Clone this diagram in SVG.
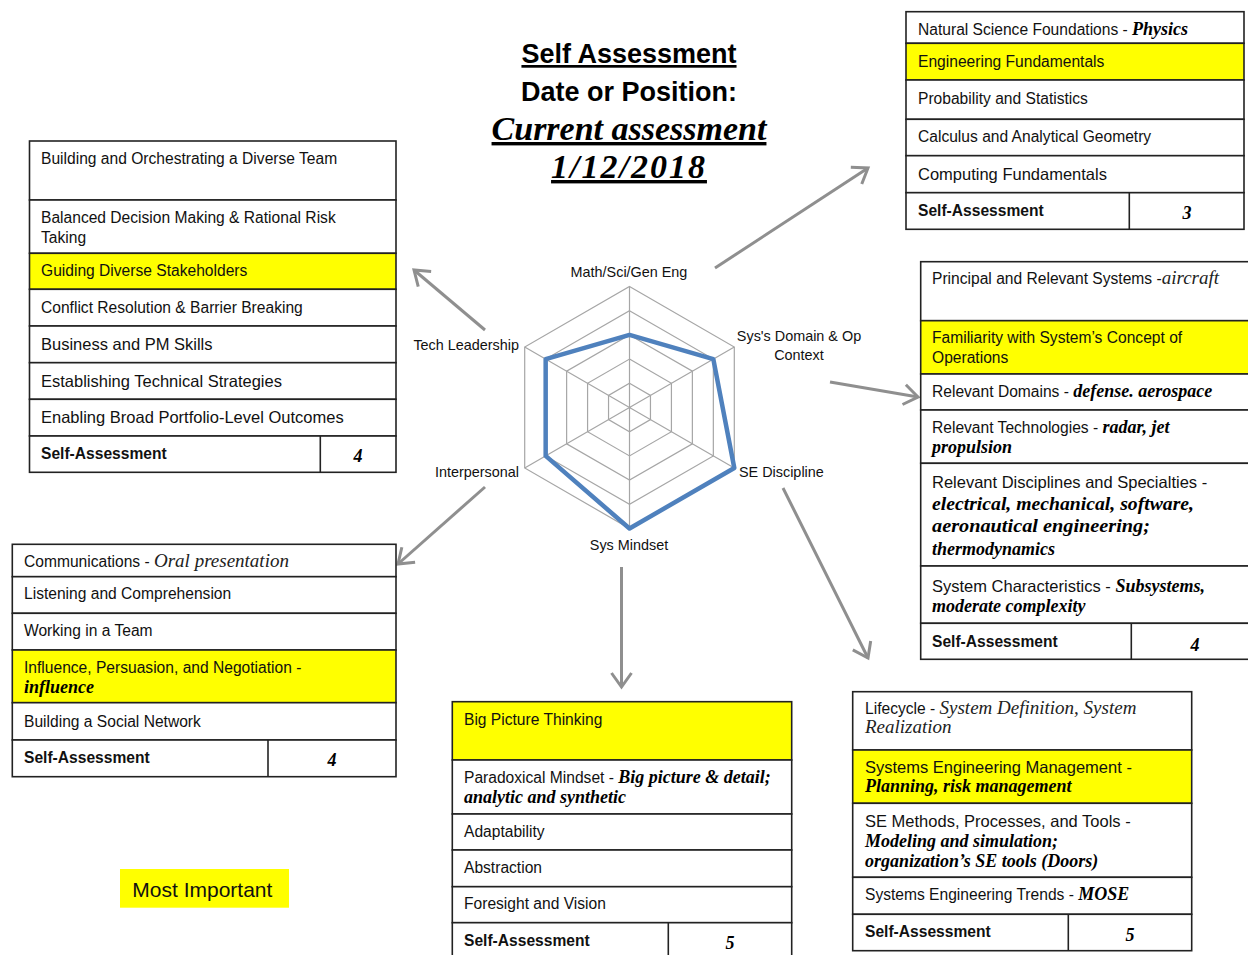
<svg xmlns="http://www.w3.org/2000/svg" width="1248" height="955" viewBox="0 0 1248 955">
<style>
.t{font-family:"Liberation Sans",Arial,sans-serif;font-size:15.6px;fill:#111}
.tl{font-size:16.5px}
.b{font-weight:bold}
.h{font-family:"Liberation Serif","Times New Roman",serif;font-style:italic;font-weight:bold;fill:#000;font-size:18px}
.hl{font-family:"Liberation Serif","Times New Roman",serif;font-style:italic;font-weight:normal;fill:#222;font-size:19px}
.n{font-family:"Liberation Serif","Times New Roman",serif;font-style:italic;font-weight:bold;fill:#000;font-size:18px;text-anchor:middle}
.c{fill:#fff;stroke:#222;stroke-width:1.6}
.y{fill:#ffff00;stroke:#222;stroke-width:1.6}
.dv{stroke:#222;stroke-width:1.6}
.lab{font-family:"Liberation Sans",Arial,sans-serif;font-size:14.4px;fill:#111}
.grid{fill:none;stroke:#a6a6a6;stroke-width:1.2}
.conn{stroke:#8f8f8f;stroke-width:3;fill:none;marker-end:url(#ah)}
.ttl{font-family:"Liberation Sans",Arial,sans-serif;font-weight:bold;font-size:27px;fill:#000;text-anchor:middle}
.hs{font-family:"Liberation Serif","Times New Roman",serif;font-style:italic;font-weight:bold;font-size:34px;fill:#000;text-anchor:middle;text-decoration:underline}
</style>
<defs>
<marker id="ah" viewBox="0 0 20 24" refX="17" refY="12" markerWidth="20" markerHeight="24" markerUnits="userSpaceOnUse" orient="auto">
<path d="M3,2 L17,12 L3,22" fill="none" stroke="#8f8f8f" stroke-width="3"/>
</marker>
</defs>
<rect width="1248" height="955" fill="#fff"/>

<g id="title">
<text class="ttl" x="629" y="63" text-decoration="underline">Self Assessment</text>
<text class="ttl" x="629" y="101">Date or Position:</text>
<text class="hs" x="629" y="140">Current assessment</text>
<text class="hs" x="629" y="178" style="letter-spacing:2px">1/12/2018</text>
</g>

<g id="radar">
<polygon class="grid" points="629.5,383.3 650.46,395.4 650.46,419.6 629.5,431.7 608.54,419.6 608.54,395.4"/>
<polygon class="grid" points="629.5,359.1 671.42,383.3 671.42,431.7 629.5,455.9 587.58,431.7 587.58,383.3"/>
<polygon class="grid" points="629.5,334.9 692.37,371.2 692.37,443.8 629.5,480.1 566.63,443.8 566.63,371.2"/>
<polygon class="grid" points="629.5,310.7 713.33,359.1 713.33,455.9 629.5,504.3 545.67,455.9 545.67,359.1"/>
<polygon class="grid" points="629.5,286.5 734.3,347 734.3,468 629.5,528.5 524.7,468 524.7,347"/>
<path class="grid" d="M629.5,407.5 L629.5,286.5 M629.5,407.5 L734.3,347 M629.5,407.5 L734.3,468 M629.5,407.5 L629.5,528.5 M629.5,407.5 L524.7,468 M629.5,407.5 L524.7,347"/>
<polygon points="629.5,334.9 713.33,359.1 734.3,468 629.5,528.5 545.67,455.9 545.67,359.1" fill="none" stroke="#4f81bd" stroke-width="4.5" stroke-linejoin="round"/>
<text class="lab" x="629" y="277" text-anchor="middle">Math/Sci/Gen Eng</text>
<text class="lab" x="799" y="341" text-anchor="middle">Sys's Domain &amp; Op</text>
<text class="lab" x="799" y="360" text-anchor="middle">Context</text>
<text class="lab" x="739" y="477">SE Discipline</text>
<text class="lab" x="629" y="550" text-anchor="middle">Sys Mindset</text>
<text class="lab" x="519" y="477" text-anchor="end">Interpersonal</text>
<text class="lab" x="519" y="350" text-anchor="end">Tech Leadership</text>
</g>

<g id="connectors">
<line class="conn" x1="715" y1="268" x2="868" y2="168"/>
<line class="conn" x1="830" y1="382" x2="918" y2="397"/>
<line class="conn" x1="783" y1="488" x2="868" y2="658"/>
<line class="conn" x1="621.5" y1="567" x2="621.5" y2="687"/>
<line class="conn" x1="485" y1="487" x2="398" y2="564"/>
<line class="conn" x1="485" y1="330" x2="414" y2="270"/>
</g>

<g id="tech-leadership">
<rect class="c" x="29.5" y="141" width="366.5" height="59"/>
<rect class="c" x="29.5" y="200" width="366.5" height="53.3"/>
<rect class="y" x="29.5" y="253.3" width="366.5" height="36"/>
<rect class="c" x="29.5" y="289.3" width="366.5" height="36.7"/>
<rect class="c" x="29.5" y="326" width="366.5" height="36.7"/>
<rect class="c" x="29.5" y="362.7" width="366.5" height="36.6"/>
<rect class="c" x="29.5" y="399.3" width="366.5" height="36.7"/>
<rect class="c" x="29.5" y="436" width="366.5" height="36.3"/>
<line class="dv" x1="320.3" y1="436" x2="320.3" y2="472.3"/>
<text class="t" x="41" y="163.5">Building and Orchestrating a Diverse Team</text>
<text class="t" x="41" y="222.7">Balanced Decision Making &amp; Rational Risk</text>
<text class="t" x="41" y="243.3">Taking</text>
<text class="t" x="41" y="275.7">Guiding Diverse Stakeholders</text>
<text class="t" x="41" y="312.7">Conflict Resolution &amp; Barrier Breaking</text>
<text class="t tl" x="41" y="350">Business and PM Skills</text>
<text class="t tl" x="41" y="387.3">Establishing Technical Strategies</text>
<text class="t tl" x="41" y="423.3">Enabling Broad Portfolio-Level Outcomes</text>
<text class="t b" x="41" y="458.5">Self-Assessment</text>
<text class="n" x="358" y="462">4</text>
</g>

<g id="math-sci">
<rect class="c" x="906" y="11.7" width="338" height="31.6"/>
<rect class="y" x="906" y="43.3" width="338" height="36.7"/>
<rect class="c" x="906" y="80" width="338" height="39.3"/>
<rect class="c" x="906" y="119.3" width="338" height="36.4"/>
<rect class="c" x="906" y="155.7" width="338" height="37"/>
<rect class="c" x="906" y="192.7" width="338" height="36.6"/>
<line class="dv" x1="1129.3" y1="192.7" x2="1129.3" y2="229.3"/>
<text class="t" x="918" y="35">Natural Science Foundations - <tspan class="h">Physics</tspan></text>
<text class="t" x="918" y="66.7">Engineering Fundamentals</text>
<text class="t" x="918" y="104">Probability and Statistics</text>
<text class="t" x="918" y="141.7">Calculus and Analytical Geometry</text>
<text class="t tl" x="918" y="180">Computing Fundamentals</text>
<text class="t b" x="918" y="215.5">Self-Assessment</text>
<text class="n" x="1187" y="219">3</text>
</g>

<g id="sys-domain">
<rect class="c" x="920.7" y="261.7" width="330" height="59"/>
<rect class="y" x="920.7" y="320.7" width="330" height="53.3"/>
<rect class="c" x="920.7" y="374" width="330" height="36"/>
<rect class="c" x="920.7" y="410" width="330" height="53.3"/>
<rect class="c" x="920.7" y="463.3" width="330" height="102.7"/>
<rect class="c" x="920.7" y="566" width="330" height="57.3"/>
<rect class="c" x="920.7" y="623.3" width="330" height="36"/>
<line class="dv" x1="1131.3" y1="623.3" x2="1131.3" y2="659.3"/>
<text class="t" x="932" y="284.3">Principal and Relevant Systems -<tspan class="hl">aircraft</tspan></text>
<text class="t" x="932" y="343.3">Familiarity with System’s Concept of</text>
<text class="t" x="932" y="363.3">Operations</text>
<text class="t" x="932" y="396.7">Relevant Domains - <tspan class="h">defense. aerospace</tspan></text>
<text class="t" x="932" y="433.3">Relevant Technologies - <tspan class="h">radar, jet</tspan></text>
<text class="h" x="932" y="453.3">propulsion</text>
<text class="t tl" x="932" y="488.3">Relevant Disciplines and Specialties -</text>
<text class="h" x="932" y="510" textLength="262" lengthAdjust="spacingAndGlyphs">electrical, mechanical, software,</text>
<text class="h" x="932" y="531.7" textLength="218" lengthAdjust="spacingAndGlyphs">aeronautical engineering;</text>
<text class="h" x="932" y="555">thermodynamics</text>
<text class="t tl" x="932" y="591.7">System Characteristics - <tspan class="h">Subsystems,</tspan></text>
<text class="h" x="932" y="611.7">moderate complexity</text>
<text class="t b" x="932" y="647">Self-Assessment</text>
<text class="n" x="1195" y="650.5">4</text>
</g>

<g id="interpersonal">
<rect class="c" x="12.3" y="544.3" width="383.7" height="32.4"/>
<rect class="c" x="12.3" y="576.7" width="383.7" height="36.6"/>
<rect class="c" x="12.3" y="613.3" width="383.7" height="36.7"/>
<rect class="y" x="12.3" y="650" width="383.7" height="52.7"/>
<rect class="c" x="12.3" y="702.7" width="383.7" height="37.3"/>
<rect class="c" x="12.3" y="740" width="383.7" height="36.7"/>
<line class="dv" x1="268" y1="740" x2="268" y2="776.7"/>
<text class="t" x="24" y="567.3">Communications - <tspan class="hl">Oral presentation</tspan></text>
<text class="t" x="24" y="599.3">Listening and Comprehension</text>
<text class="t" x="24" y="636">Working in a Team</text>
<text class="t" x="24" y="672.7">Influence, Persuasion, and Negotiation -</text>
<text class="h" x="24" y="693.3">influence</text>
<text class="t" x="24" y="726.7">Building a Social Network</text>
<text class="t b" x="24" y="762.7">Self-Assessment</text>
<text class="n" x="332" y="766">4</text>
</g>

<g id="sys-mindset">
<rect class="y" x="452.3" y="701.7" width="339.4" height="58.3"/>
<rect class="c" x="452.3" y="760" width="339.4" height="54"/>
<rect class="c" x="452.3" y="814" width="339.4" height="36"/>
<rect class="c" x="452.3" y="850" width="339.4" height="36.7"/>
<rect class="c" x="452.3" y="886.7" width="339.4" height="36"/>
<rect class="c" x="452.3" y="922.7" width="339.4" height="40"/>
<line class="dv" x1="668.3" y1="922.7" x2="668.3" y2="962"/>
<text class="t" x="464" y="725">Big Picture Thinking</text>
<text class="t" x="464" y="783.3">Paradoxical Mindset - <tspan class="h">Big picture &amp; detail;</tspan></text>
<text class="h" x="464" y="803.3">analytic and synthetic</text>
<text class="t" x="464" y="836.7">Adaptability</text>
<text class="t" x="464" y="872.7">Abstraction</text>
<text class="t" x="464" y="909.3">Foresight and Vision</text>
<text class="t b" x="464" y="945.5">Self-Assessment</text>
<text class="n" x="730" y="949">5</text>
</g>

<g id="se-discipline">
<rect class="c" x="852.7" y="691.7" width="339" height="58.3"/>
<rect class="y" x="852.7" y="750" width="339" height="53.3"/>
<rect class="c" x="852.7" y="803.3" width="339" height="74"/>
<rect class="c" x="852.7" y="877.3" width="339" height="37"/>
<rect class="c" x="852.7" y="914.3" width="339" height="36.4"/>
<line class="dv" x1="1068.3" y1="914.3" x2="1068.3" y2="950.7"/>
<text class="t" x="865" y="714.3">Lifecycle - <tspan class="hl">System Definition, System</tspan></text>
<text class="hl" x="865" y="733.3">Realization</text>
<text class="t tl" x="865" y="773.3">Systems Engineering Management -</text>
<text class="h" x="865" y="791.7">Planning, risk management</text>
<text class="t tl" x="865" y="826.7">SE Methods, Processes, and Tools -</text>
<text class="h" x="865" y="846.7">Modeling and simulation;</text>
<text class="h" x="865" y="866.7">organization’s SE tools (Doors)</text>
<text class="t" x="865" y="900">Systems Engineering Trends - <tspan class="h">MOSE</tspan></text>
<text class="t b" x="865" y="937">Self-Assessment</text>
<text class="n" x="1130" y="940.5">5</text>
</g>

<g id="legend">
<rect x="120" y="869" width="169" height="38.7" fill="#ffff00"/>
<text class="t" x="132.3" y="896.7" style="font-size:21px">Most Important</text>
</g>
</svg>
